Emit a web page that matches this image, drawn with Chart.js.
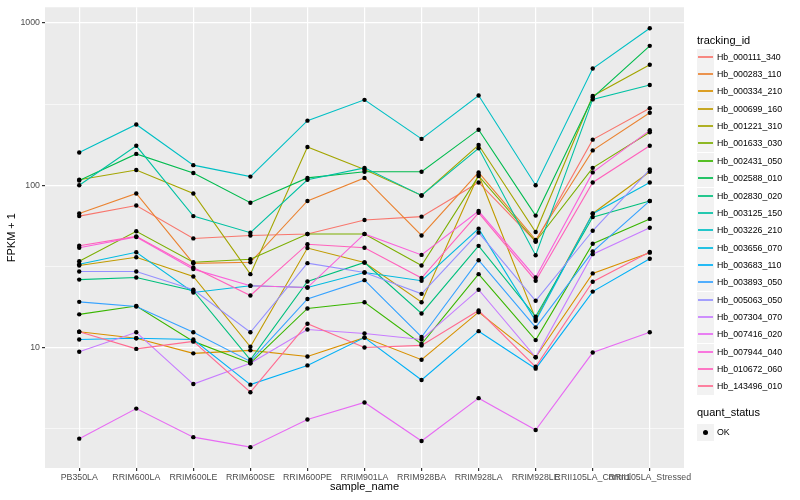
<!DOCTYPE html>
<html>
<head>
<meta charset="utf-8">
<script src="https://cdn.jsdelivr.net/npm/chart.js@4.4.1/dist/chart.umd.min.js"></script>
<style>
  body { margin: 0; background: #fff; font-family: "Liberation Sans", Arial, sans-serif; }
  #wrap { position: relative; width: 800px; height: 500px; }
  #legend { position: absolute; left: 0; top: 0; width: 800px; height: 500px; pointer-events: none; }
  .lg-title { position: absolute; left: 697px; font-size: 11px; color: #000; line-height: 13px; }
  .lg-key { position: absolute; left: 697px; width: 17px; height: 17px; background: #F2F2F2; }
  .lg-line { position: absolute; left: 1px; width: 15px; top: 7px; height: 2px; opacity: 0.85; }
  .lg-dot { position: absolute; left: 6px; top: 6px; width: 5px; height: 5px; border-radius: 50%; background: #000; }
  .lg-text { position: absolute; left: 717px; font-size: 8.8px; color: #000; line-height: 11px; }
</style>
</head>
<body>
<div id="wrap">
  <canvas id="chart" width="800" height="500"></canvas>
  <div id="legend"></div>
</div>
<script>
// categories (x)
const sampleNames = ['PB350LA', 'RRIM600LA', 'RRIM600LE', 'RRIM600SE', 'RRIM600PE', 'RRIM901LA',
  'RRIM928BA', 'RRIM928LA', 'RRIM928LE', 'RRII105LA_Control', 'RRII105LA_Stressed'];

// FPKM + 1
const hb_000111_340 = [64.5, 75, 47, 49, 50, 61, 64, 104, 45, 191, 298];
const hb_000283_110 = [67, 89, 33, 33.5, 80, 111, 49, 120, 46, 164, 280];
const hb_000334_210 = [12.5, 11.4, 9.2, 9.6, 8.8, 11.5, 8.4, 16.5, 8.7, 28.6, 38.4];
const hb_000699_160 = [32, 36, 27.4, 10.1, 41, 33.4, 19, 116, 15, 67, 121];
const hb_001221_310 = [108, 124, 89, 28.3, 172, 125, 86.5, 177, 51.5, 355, 553];
const hb_001633_030 = [34, 52, 33.5, 35, 50, 50, 32, 114, 45, 128, 212];
const hb_002431_050 = [16, 18, 10.9, 8, 17.4, 19, 10.5, 28.3, 11.1, 43.6, 62];
const hb_002588_010 = [107, 156, 119, 78, 111, 121, 121, 220, 65, 347, 723];
const hb_002830_020 = [26.2, 27, 22.4, 8.4, 25.5, 33.4, 16.2, 42.3, 15.5, 63.6, 80];
const hb_003125_150 = [100, 175, 64.5, 51, 108, 128, 86.5, 169, 37, 338, 415];
const hb_003226_210 = [159, 237, 133, 113, 250, 336, 193, 357, 100, 524, 928];
const hb_003656_070 = [32.6, 38.6, 21.8, 24, 23.4, 29, 25.8, 54, 14.6, 66.7, 104];
const hb_003683_110 = [11.2, 11.4, 11.2, 5.9, 7.75, 11.5, 6.3, 12.6, 7.4, 22.1, 35.2];
const hb_003893_050 = [19.1, 17.9, 12.4, 8.2, 19.9, 26, 11.6, 34.5, 13.3, 39, 80];
const hb_005063_050 = [29.4, 29.4, 22.7, 12.4, 33.1, 29, 21.4, 51, 19.4, 52.4, 125];
const hb_007304_070 = [9.4, 12.4, 5.95, 8, 12.9, 12.2, 11.2, 22.7, 8.7, 37.6, 54.7];
const hb_007416_020 = [2.74, 4.2, 2.8, 2.43, 3.6, 4.58, 2.65, 4.87, 3.1, 9.3, 12.4];
const hb_007944_040 = [41.2, 48, 30.4, 24, 23.4, 50.1, 37.2, 69.3, 27, 120, 218];
const hb_010672_060 = [42.4, 48.4, 31.1, 20.9, 43.3, 41.2, 26.8, 67.6, 25.8, 104, 175];
const hb_143496_010 = [12.5, 9.8, 10.9, 5.3, 14, 10, 10.3, 16.9, 7.6, 25.4, 38.8];

const trackingIds = ['Hb_000111_340', 'Hb_000283_110', 'Hb_000334_210', 'Hb_000699_160', 'Hb_001221_310',
  'Hb_001633_030', 'Hb_002431_050', 'Hb_002588_010', 'Hb_002830_020', 'Hb_003125_150', 'Hb_003226_210',
  'Hb_003656_070', 'Hb_003683_110', 'Hb_003893_050', 'Hb_005063_050', 'Hb_007304_070', 'Hb_007416_020',
  'Hb_007944_040', 'Hb_010672_060', 'Hb_143496_010'];
const seriesValues = [hb_000111_340, hb_000283_110, hb_000334_210, hb_000699_160, hb_001221_310,
  hb_001633_030, hb_002431_050, hb_002588_010, hb_002830_020, hb_003125_150, hb_003226_210,
  hb_003656_070, hb_003683_110, hb_003893_050, hb_005063_050, hb_007304_070, hb_007416_020,
  hb_007944_040, hb_010672_060, hb_143496_010];

const quantStatus = ['OK'];

// y ticks
const majorTicks = [10, 100, 1000];
const minorTicks = [3.1623, 31.623, 316.23];
const yMin = 1.807, yMax = 1250;

// ggplot hue palette, 20 colours
const palette = ['#F8766D', '#EA8331', '#D89000', '#C09B00', '#A3A500', '#7CAE00', '#39B600', '#00BB4E',
  '#00BF7D', '#00C1A3', '#00BFC4', '#00BAE0', '#00B0F6', '#35A2FF', '#9590FF', '#C77CFF', '#E76BF3',
  '#FA62DB', '#FF62BC', '#FF6C91'];

const isMajor = v => majorTicks.some(m => Math.abs(m - v) < 1e-6);

const lineSets = seriesValues.map((vals, i) => ({
    label: trackingIds[i],
    data: vals.map((v, j) => ({ x: j, y: v })),
    borderColor: palette[i],
    borderWidth: 1.1,
    pointRadius: 0,
    fill: false,
    order: 100 - i
}));

const pointSet = {
    label: quantStatus[0],
    type: 'scatter',
    data: seriesValues.flatMap(vals => vals.map((v, j) => ({ x: j, y: v }))),
    backgroundColor: '#000',
    borderColor: '#000',
    borderWidth: 0,
    pointRadius: 2.2,
    order: 0
};

const panelBg = {
    id: 'panelBg',
    beforeDraw(chart) {
        const { ctx, chartArea: a } = chart;
        ctx.save();
        ctx.fillStyle = '#EBEBEB';
        ctx.fillRect(a.left, a.top, a.right - a.left, a.bottom - a.top);
        ctx.restore();
    }
};

const tickFont = { family: '"Liberation Sans", Arial, sans-serif', size: 8.8 };
const titleFont = { family: '"Liberation Sans", Arial, sans-serif', size: 11 };

new Chart(document.getElementById('chart'), {
    type: 'line',
    data: { datasets: [pointSet, ...lineSets] },
    plugins: [panelBg],
    options: {
        responsive: false,
        animation: false,
        layout: { padding: { top: 5, right: 116, left: 0, bottom: 0 } },
        plugins: { legend: { display: false }, tooltip: { enabled: false } },
        scales: {
            x: {
                type: 'linear',
                min: -0.6,
                max: sampleNames.length - 1 + 0.6,
                afterBuildTicks: s => { s.ticks = sampleNames.map((_, i) => ({ value: i })); },
                afterFit: s => { s.height = 32; },
                border: { display: false },
                grid: { color: '#FFFFFF', lineWidth: 1.2, tickColor: '#333333', tickLength: 3 },
                ticks: {
                    autoSkip: false, maxRotation: 0, minRotation: 0, padding: 1,
                    color: '#4D4D4D', font: tickFont,
                    callback: v => sampleNames[v]
                },
                title: { display: true, text: 'sample_name', color: '#000', font: titleFont, padding: { top: 0, bottom: 6 } }
            },
            y: {
                type: 'logarithmic',
                min: yMin,
                max: yMax,
                afterBuildTicks: s => {
                    s.ticks = [...minorTicks, ...majorTicks].sort((a, b) => a - b).map(v => ({ value: v }));
                },
                afterFit: s => { s.width = 45; },
                border: { display: false },
                grid: {
                    color: '#FFFFFF',
                    lineWidth: c => (c.tick && isMajor(c.tick.value)) ? 1.2 : 0.6,
                    tickColor: c => (c.tick && isMajor(c.tick.value)) ? '#333333' : 'rgba(0,0,0,0)',
                    tickLength: 3
                },
                ticks: {
                    padding: 2, color: '#4D4D4D', font: tickFont,
                    callback: v => isMajor(v) ? String(v) : ''
                },
                title: { display: true, text: 'FPKM + 1', color: '#000', font: titleFont, padding: { top: 5, bottom: 0 } }
            }
        }
    }
});

// legend (ggplot style, right side)
const legendEl = document.getElementById('legend');
const addEl = (cls, styles, text) => {
    const d = document.createElement('div');
    d.className = cls;
    Object.assign(d.style, styles);
    if (text) d.textContent = text;
    legendEl.appendChild(d);
    return d;
};
addEl('lg-title', { top: '34px' }, 'tracking_id');
trackingIds.forEach((id, i) => {
    const cy = Math.round(56.7 + i * 17.35);
    const key = addEl('lg-key', { top: (cy - 8) + 'px' });
    const ln = document.createElement('div');
    ln.className = 'lg-line';
    ln.style.background = palette[i];
    key.appendChild(ln);
    addEl('lg-text', { top: (cy - 5) + 'px' }, id);
});
addEl('lg-title', { top: '406px' }, 'quant_status');
quantStatus.forEach((q, i) => {
    const cy = 432 + i * 17;
    const key = addEl('lg-key', { top: (cy - 8) + 'px' });
    const dot = document.createElement('div');
    dot.className = 'lg-dot';
    key.appendChild(dot);
    addEl('lg-text', { top: (cy - 5) + 'px' }, q);
});
</script>
</body>
</html>
